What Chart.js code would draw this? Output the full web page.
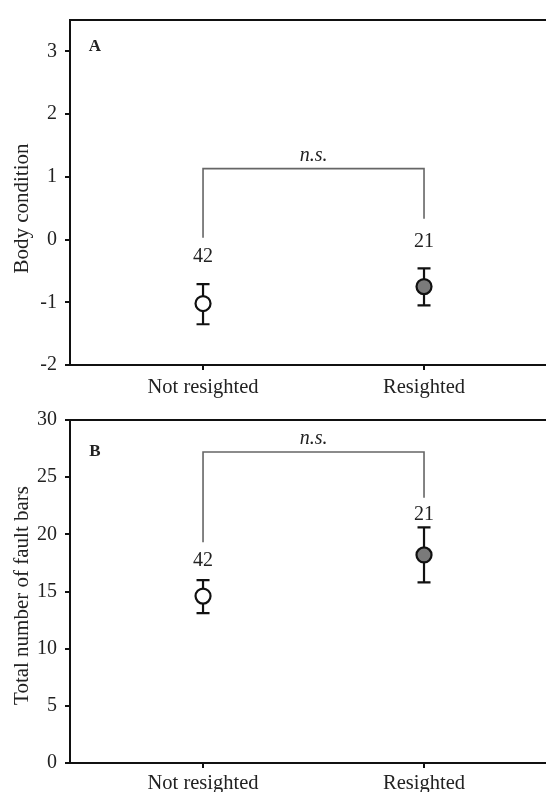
<!DOCTYPE html>
<html>
<head>
<script src="https://cdn.jsdelivr.net/npm/chart.js"></script>
<style>
  body { margin: 0; background: #fff; }
  canvas { display: block; }
</style>
</head>
<body>
<canvas id="chartA" width="546" height="400"></canvas>
<canvas id="chartB" width="546" height="392"></canvas>
<script>
// values
const groups = ['Not resighted', 'Resighted'];
const counts = [42, 21];
const conditionMean = [-1.02, -0.75];
const conditionLow = [-1.35, -1.05];
const conditionHigh = [-0.71, -0.46];
const faultMean = [14.6, 18.2];
const faultLow = [13.1, 15.8];
const faultHigh = [16.0, 20.6];
const conditionTicks = [-2, -1, 0, 1, 2, 3];
const faultTicks = [0, 5, 10, 15, 20, 25, 30];
const groupTicks = [1, 2];
const fills = ['#ffffff', '#7a7a7a'];

const serif = 'Liberation Serif';
const ink = '#222';

// error bars, n labels, bracket, panel letter and y title
const extras = {
  id: 'extras',
  beforeDatasetsDraw(chart, args, o) {
    const { ctx, scales: { x, y } } = chart;
    ctx.save();
    ctx.strokeStyle = '#111';
    ctx.lineWidth = 2.2;
    o.low.forEach((lo, i) => {
      const px = x.getPixelForValue(groupTicks[i]);
      const y1 = y.getPixelForValue(lo);
      const y2 = y.getPixelForValue(o.high[i]);
      ctx.beginPath();
      ctx.moveTo(px, y1); ctx.lineTo(px, y2);
      ctx.moveTo(px - 6.5, y1); ctx.lineTo(px + 6.5, y1);
      ctx.moveTo(px - 6.5, y2); ctx.lineTo(px + 6.5, y2);
      ctx.stroke();
    });
    ctx.restore();
  },
  afterDatasetsDraw(chart, args, o) {
    const { ctx, chartArea, scales: { x, y } } = chart;
    ctx.save();
    ctx.fillStyle = ink;
    ctx.textAlign = 'center';
    ctx.textBaseline = 'middle';
    ctx.font = '20px "' + serif + '"';
    counts.forEach((n, i) => {
      const px = x.getPixelForValue(groupTicks[i]);
      ctx.fillText(String(n), px, y.getPixelForValue(o.high[i]) - o.countGap[i]);
    });

    // bracket
    const xl = x.getPixelForValue(groupTicks[0]);
    const xr = x.getPixelForValue(groupTicks[1]);
    const yb = y.getPixelForValue(o.bracket.level);
    ctx.strokeStyle = '#666';
    ctx.lineWidth = 1.6;
    ctx.beginPath();
    ctx.moveTo(xl, y.getPixelForValue(o.bracket.ends[0]));
    ctx.lineTo(xl, yb);
    ctx.lineTo(xr, yb);
    ctx.lineTo(xr, y.getPixelForValue(o.bracket.ends[1]));
    ctx.stroke();
    ctx.font = 'italic 20px "' + serif + '"';
    ctx.fillText('n.s.', (xl + xr) / 2, yb - 13);

    ctx.font = 'bold 17px "' + serif + '"';
    ctx.fillText(o.letter, chartArea.left + 25, chartArea.top + o.letterY);

    // y axis title, set a little off the plot centre as in the original
    ctx.font = '21px "' + serif + '"';
    ctx.translate(22, (chartArea.top + chartArea.bottom) / 2 + o.titleShift);
    ctx.rotate(-Math.PI / 2);
    ctx.fillText(o.title, 0, 0);
    ctx.restore();
  }
};

function makePanel(id, mean, low, high, yTicks, yMin, yMax, xHeight, xPad, plug) {
  return new Chart(document.getElementById(id), {
    type: 'scatter',
    data: {
      datasets: [{
        data: mean.map((v, i) => ({ x: groupTicks[i], y: v })),
        pointBackgroundColor: fills,
        pointBorderColor: '#111',
        pointBorderWidth: 2.2,
        pointRadius: 7.5,
        pointHoverRadius: 7.5
      }]
    },
    options: {
      responsive: false,
      animation: false,
      layout: { autoPadding: false, padding: { top: 15, left: 0, right: 0, bottom: 0 } },
      plugins: {
        legend: { display: false },
        tooltip: { enabled: false },
        extras: Object.assign({ low: low, high: high }, plug)
      },
      scales: {
        x: {
          type: 'linear',
          position: 'bottom',
          min: 0.398,
          max: 2.552,
          afterBuildTicks: s => { s.ticks = groupTicks.map(v => ({ value: v })); },
          afterFit: s => { s.height = xHeight; },
          ticks: {
            callback: v => groups[v - 1],
            color: ink,
            padding: xPad,
            maxRotation: 0,
            font: { family: serif, size: 20.5 }
          },
          grid: { drawOnChartArea: false, tickLength: 5, color: '#111', lineWidth: 2 },
          border: { color: '#111', width: 2 }
        },
        xTop: {
          type: 'linear',
          position: 'top',
          min: 0.398,
          max: 2.552,
          afterFit: s => { s.height = 0; },
          ticks: { display: false },
          grid: { display: false },
          border: { color: '#111', width: 2 }
        },
        y: {
          min: yMin,
          max: yMax,
          afterBuildTicks: s => { s.ticks = yTicks.map(v => ({ value: v })); },
          afterFit: s => { s.width = 70; },
          ticks: {
            color: ink,
            padding: 8,
            font: { family: serif, size: 20 }
          },
          grid: { drawOnChartArea: false, tickLength: 5, color: '#111', lineWidth: 2 },
          border: { color: '#111', width: 2 }
        }
      }
    },
    plugins: [extras]
  });
}

makePanel('chartA', conditionMean, conditionLow, conditionHigh, conditionTicks, -2, 3.5, 35, 5,
  { countGap: [27, 27], bracket: { level: 1.13, ends: [0.03, 0.33] }, letter: 'A', letterY: 27,
    title: 'Body condition', titleShift: 16 });

makePanel('chartB', faultMean, faultLow, faultHigh, faultTicks, 0, 30, 29, 3,
  { countGap: [19, 13], bracket: { level: 27.2, ends: [19.3, 23.2] }, letter: 'B', letterY: 32,
    title: 'Total number of fault bars', titleShift: 4 });
</script>
</body>
</html>
